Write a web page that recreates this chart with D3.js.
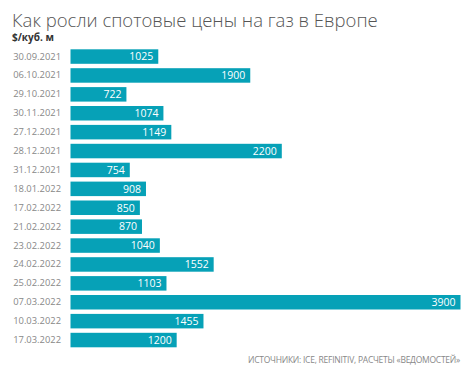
<!DOCTYPE html>
<html><head><meta charset="utf-8">
<script src="https://cdn.jsdelivr.net/npm/d3@7"></script>
<style>
html,body{margin:0;padding:0;background:#fff;}
svg{display:block;}
</style></head>
<body>
<svg id="chart" width="468" height="380"></svg>
<script>
const dates = ["30.09.2021","06.10.2021","29.10.2021","30.11.2021","27.12.2021","28.12.2021","31.12.2021","18.01.2022","17.02.2022","21.02.2022","23.02.2022","24.02.2022","25.02.2022","07.03.2022","10.03.2022","17.03.2022"];
const prices = [1025,1900,722,1074,1149,2200,754,908,850,870,1040,1552,1103,3900,1455,1200];
const titleText = "Как росли спотовые цены на газ в Европе";
const unitText = "$/куб. м";
const sourceText = "ИСТОЧНИКИ: ICE, REFINITIV, РАСЧЕТЫ «ВЕДОМОСТЕЙ»";

const svg = d3.select("#chart");
const font = "'Open Sans', 'Noto Sans', sans-serif";
const barColor = "#06a1b7";

const x = d3.scaleLinear().domain([190, 3900]).range([70.5, 460.5]);
const y = d3.scaleBand().domain(dates).range([47.1, 349.5]).paddingInner(0.233).paddingOuter(0.1165);

// title
const title = svg.append("text").attr("x", 12).attr("y", 27)
  .attr("font-family", font).attr("font-weight", 300).attr("font-size", 20)
  .attr("fill", "#555").text(titleText);
const tw = title.node().getComputedTextLength();
title.attr("font-size", 20 * 366 / tw);

svg.append("text").attr("x", 12).attr("y", 41)
  .attr("font-family", font).attr("font-weight", 700).attr("font-size", 10)
  .attr("fill", "#333").text(unitText);

// bars
svg.append("g").selectAll("rect").data(prices).join("rect")
  .attr("x", x(190))
  .attr("y", (d, i) => y(dates[i]))
  .attr("width", d => x(d) - x(190))
  .attr("height", y.bandwidth())
  .attr("fill", barColor);

// value labels
svg.append("g").selectAll("text").data(prices).join("text")
  .attr("x", d => x(d) - 5)
  .attr("y", (d, i) => y(dates[i]) + y.bandwidth() / 2)
  .attr("dy", "0.36em")
  .attr("text-anchor", "end")
  .attr("font-family", font).attr("font-size", 10.5)
  .attr("fill", "#fff").text(d => d);

// category axis
const yAxis = svg.append("g").attr("transform", "translate(61,0)")
  .call(d3.axisLeft(y).tickSize(0).tickPadding(0));
yAxis.select(".domain").remove();
yAxis.selectAll("text").attr("font-family", font).attr("font-size", 9.4).attr("fill", "#888");

// source
svg.append("text").attr("x", 460).attr("y", 363).attr("text-anchor", "end")
  .attr("font-family", font).attr("font-size", 8.5).attr("fill", "#888")
  .attr("letter-spacing", -0.25).text(sourceText);
</script>
</body></html>
